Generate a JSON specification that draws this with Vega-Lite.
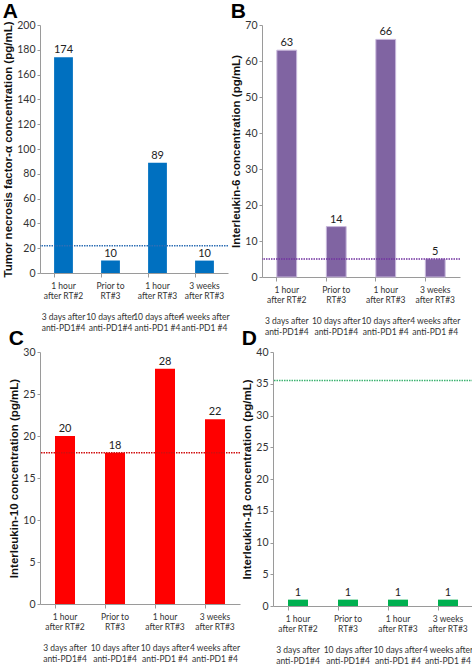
{
  "$schema": "https://vega.github.io/schema/vega-lite/v6.json",
  "padding": {"left": 2, "top": 1, "right": 0, "bottom": 0},
  "background": "white",
  "config": {
    "font": "Lato",
    "view": {"stroke": null},
    "title": {"fontSize": 21, "fontWeight": "bold", "anchor": "start", "color": "#000", "offset": -2, "font": "Liberation Sans"},
    "axisY": {"grid": false, "domainColor": "#9a9a9a", "tickColor": "#9a9a9a", "tickSize": 3, "labelFontSize": 10.5, "labelColor": "#333", "titleFontSize": 11.5, "titleFontWeight": "bold", "titleColor": "#111", "labelPadding": 2, "titlePadding": 3, "labelFont": "Lato", "titleFont": "Liberation Sans", "labelOverlap": false, "tickCount": 30},
    "axisX": {"title": null, "labelAngle": 0, "domainColor": "#9a9a9a", "tickColor": "#9a9a9a", "tickSize": 4, "bandPosition": 0, "labelFont": "Lato", "labelFontSize": 8.5, "labelColor": "#333", "labelLineHeight": 10.5, "labelOverlap": false, "labelLimit": 0, "labelPadding": 4, "labelExpr": "split(datum.label, '|')"}
  },
  "datasets": {
    "cyto": [
      {"panel": "A", "cat": "1 hour|after RT#2|\u200b|3 days after|anti-PD1#4", "value": 174},
      {"panel": "A", "cat": "Prior to|RT#3|\u200b|10 days after|anti-PD1#4", "value": 10},
      {"panel": "A", "cat": "1 hour|after RT#3|\u200b|10 days after|anti-PD1 #4", "value": 89},
      {"panel": "A", "cat": "3 weeks|after RT#3|\u200b|4 weeks after|anti-PD1 #4", "value": 10},
      {"panel": "B", "cat": "1 hour|after RT#2|\u200b|3 days after|anti-PD1#4", "value": 63},
      {"panel": "B", "cat": "Prior to|RT#3|\u200b|10 days after|anti-PD1#4", "value": 14},
      {"panel": "B", "cat": "1 hour|after RT#3|\u200b|10 days after|anti-PD1 #4", "value": 66},
      {"panel": "B", "cat": "3 weeks|after RT#3|\u200b|4 weeks after|anti-PD1 #4", "value": 5},
      {"panel": "C", "cat": "1 hour|after RT#2|\u200b|3 days after|anti-PD1#4", "value": 20},
      {"panel": "C", "cat": "Prior to|RT#3|\u200b|10 days after|anti-PD1#4", "value": 18},
      {"panel": "C", "cat": "1 hour|after RT#3|\u200b|10 days after|anti-PD1 #4", "value": 28},
      {"panel": "C", "cat": "3 weeks|after RT#3|\u200b|4 weeks after|anti-PD1 #4", "value": 22},
      {"panel": "D", "cat": "1 hour|after RT#2|\u200b|3 days after|anti-PD1#4", "value": 1},
      {"panel": "D", "cat": "Prior to|RT#3|\u200b|10 days after|anti-PD1#4", "value": 1},
      {"panel": "D", "cat": "1 hour|after RT#3|\u200b|10 days after|anti-PD1 #4", "value": 1},
      {"panel": "D", "cat": "3 weeks|after RT#3|\u200b|4 weeks after|anti-PD1 #4", "value": 1}
    ],
    "thr": [
      {"panel": "A", "threshold": 22},
      {"panel": "B", "threshold": 5},
      {"panel": "C", "threshold": 18},
      {"panel": "D", "threshold": 35.5}
    ]
  },
  "spacing": -8,
  "vconcat": [
    {
      "spacing": 0,
      "hconcat": [
        {
          "title": "A",
          "width": 188, "height": 248,
          "layer": [
            {
              "data": {"name": "cyto"},
              "transform": [{"filter": "datum.panel === 'A'"}],
              "mark": {"type": "bar", "color": "#0070C0"},
              "encoding": {
                "x": {"field": "cat", "type": "nominal", "sort": null, "scale": {"paddingInner": 0.6, "paddingOuter": 0.3}},
                "y": {"field": "value", "type": "quantitative", "scale": {"domain": [0, 200]}, "axis": {"values": [0,20,40,60,80,100,120,140,160,180,200], "tickCount": 30, "labelOverlap": false, "title": "Tumor necrosis factor-α concentration (pg/mL)"}}
              }
            },
            {
              "data": {"name": "cyto"},
              "transform": [{"filter": "datum.panel === 'A'"}],
              "mark": {"type": "text", "dy": -7, "fontSize": 11, "color": "#222"},
              "encoding": {
                "x": {"field": "cat", "type": "nominal", "sort": null},
                "y": {"field": "value", "type": "quantitative"},
                "text": {"field": "value", "type": "quantitative"}
              }
            },
            {
              "data": {"name": "thr"},
              "transform": [{"filter": "datum.panel === 'A'"}],
              "mark": {"type": "rule", "color": "#2E6FB5", "strokeDash": [1.5, 1], "strokeWidth": 1.5},
              "encoding": {"y": {"field": "threshold", "type": "quantitative"}}
            }
          ]
        },
        {
          "title": "B",
          "width": 198, "height": 252,
          "layer": [
            {
              "data": {"name": "cyto"},
              "transform": [{"filter": "datum.panel === 'B'"}],
              "mark": {"type": "bar", "color": "#8064A2", "stroke": "#c8b8dc", "strokeWidth": 1},
              "encoding": {
                "x": {"field": "cat", "type": "nominal", "sort": null, "scale": {"paddingInner": 0.6, "paddingOuter": 0.3}},
                "y": {"field": "value", "type": "quantitative", "scale": {"domain": [0, 70]}, "axis": {"values": [0,10,20,30,40,50,60,70], "tickCount": 30, "labelOverlap": false, "title": "Interleukin-6 concentration (pg/mL)"}}
              }
            },
            {
              "data": {"name": "cyto"},
              "transform": [{"filter": "datum.panel === 'B'"}],
              "mark": {"type": "text", "dy": -7, "fontSize": 11, "color": "#222"},
              "encoding": {
                "x": {"field": "cat", "type": "nominal", "sort": null},
                "y": {"field": "value", "type": "quantitative"},
                "text": {"field": "value", "type": "quantitative"}
              }
            },
            {
              "data": {"name": "thr"},
              "transform": [{"filter": "datum.panel === 'B'"}],
              "mark": {"type": "rule", "color": "#7030A0", "strokeDash": [1.5, 1], "strokeWidth": 1.5},
              "encoding": {"y": {"field": "threshold", "type": "quantitative"}}
            }
          ]
        }
      ]
    },
    {
      "spacing": 0,
      "hconcat": [
        {
          "title": "C",
          "width": 200, "height": 252,
          "layer": [
            {
              "data": {"name": "cyto"},
              "transform": [{"filter": "datum.panel === 'C'"}],
              "mark": {"type": "bar", "color": "#FF0000"},
              "encoding": {
                "x": {"field": "cat", "type": "nominal", "sort": null, "scale": {"paddingInner": 0.6, "paddingOuter": 0.3}},
                "y": {"field": "value", "type": "quantitative", "scale": {"domain": [0, 30]}, "axis": {"values": [0,5,10,15,20,25,30], "tickCount": 30, "labelOverlap": false, "title": "Interleukin-10 concentration (pg/mL)"}}
              }
            },
            {
              "data": {"name": "cyto"},
              "transform": [{"filter": "datum.panel === 'C'"}],
              "mark": {"type": "text", "dy": -7, "fontSize": 11, "color": "#222"},
              "encoding": {
                "x": {"field": "cat", "type": "nominal", "sort": null},
                "y": {"field": "value", "type": "quantitative"},
                "text": {"field": "value", "type": "quantitative"}
              }
            },
            {
              "data": {"name": "thr"},
              "transform": [{"filter": "datum.panel === 'C'"}],
              "mark": {"type": "rule", "color": "#D01010", "strokeDash": [1.5, 1], "strokeWidth": 1.5},
              "encoding": {"y": {"field": "threshold", "type": "quantitative"}}
            }
          ]
        },
        {
          "title": "D",
          "width": 200, "height": 254,
          "layer": [
            {
              "data": {"name": "cyto"},
              "transform": [{"filter": "datum.panel === 'D'"}],
              "mark": {"type": "bar", "color": "#00B050"},
              "encoding": {
                "x": {"field": "cat", "type": "nominal", "sort": null, "scale": {"paddingInner": 0.6, "paddingOuter": 0.3}},
                "y": {"field": "value", "type": "quantitative", "scale": {"domain": [0, 40]}, "axis": {"values": [0,5,10,15,20,25,30,35,40], "tickCount": 30, "labelOverlap": false, "title": "Interleukin-1β concentration (pg/mL)"}}
              }
            },
            {
              "data": {"name": "cyto"},
              "transform": [{"filter": "datum.panel === 'D'"}],
              "mark": {"type": "text", "dy": -7, "fontSize": 11, "color": "#222"},
              "encoding": {
                "x": {"field": "cat", "type": "nominal", "sort": null},
                "y": {"field": "value", "type": "quantitative"},
                "text": {"field": "value", "type": "quantitative"}
              }
            },
            {
              "data": {"name": "thr"},
              "transform": [{"filter": "datum.panel === 'D'"}],
              "mark": {"type": "rule", "color": "#3CB371", "strokeDash": [1.5, 1], "strokeWidth": 1.5},
              "encoding": {"y": {"field": "threshold", "type": "quantitative"}}
            }
          ]
        }
      ]
    }
  ]
}
